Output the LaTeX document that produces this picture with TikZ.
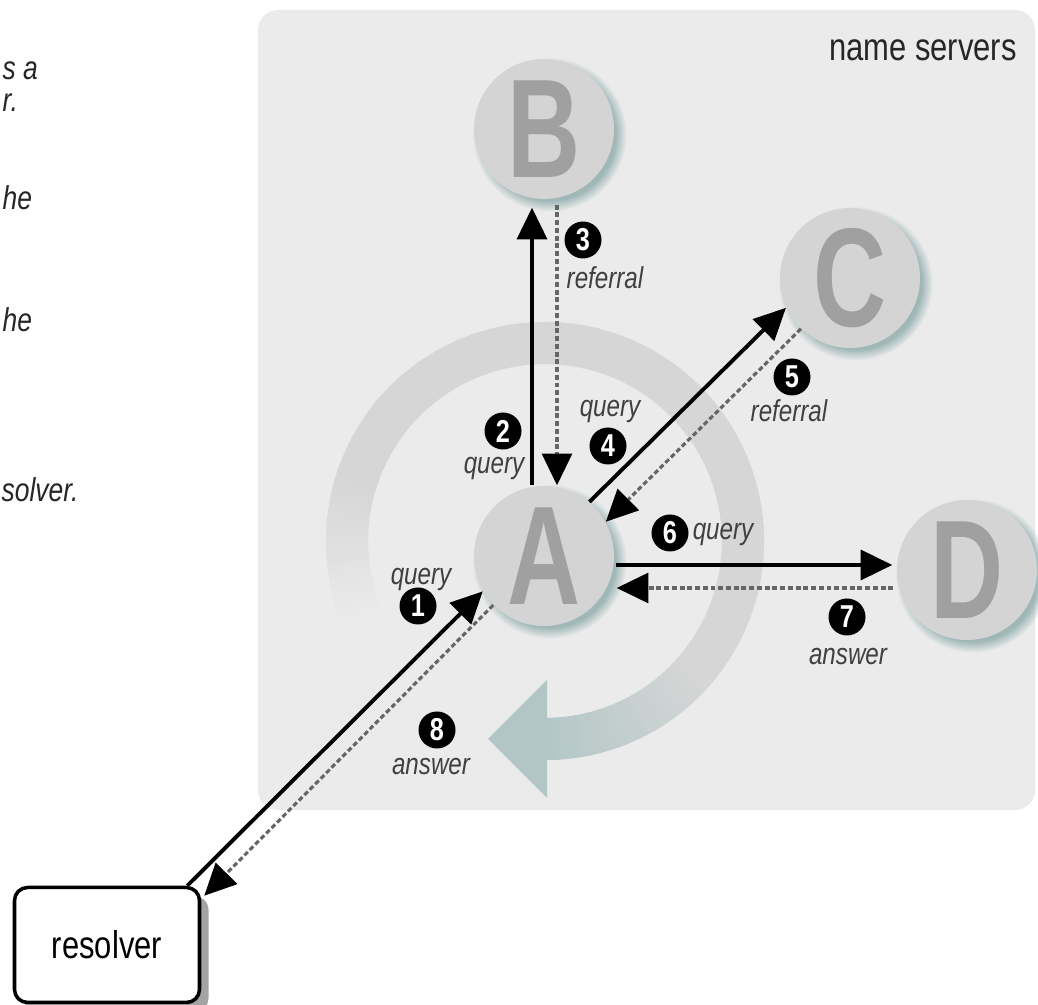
\documentclass[tikz,border=0pt]{standalone}
\usepackage{xcolor}
\usepackage{fontspec}
\usetikzlibrary{arrows.meta,calc,shadows}
\newfontfamily\condfont{Liberation Sans}[FakeStretch=0.8]
\newfontfamily\letterfont{Liberation Sans}[FakeStretch=0.72]
\definecolor{panelbg}{RGB}{235,235,235}
\definecolor{srvfill}{RGB}{212,212,212}
\definecolor{srvtext}{RGB}{160,160,160}
\definecolor{srvshadow}{RGB}{140,170,170}
\definecolor{ringgray}{RGB}{214,214,214}
\definecolor{ringteal}{RGB}{178,198,198}
\tikzset{
  server/.style={circle,fill=srvfill,minimum size=14mm,inner sep=0pt,text=srvtext,
    font=\letterfont\bfseries\fontsize{40}{40}\selectfont,
    circular drop shadow={shadow xshift=.5mm,shadow yshift=-.5mm,fill=srvshadow,opacity=.8}},
  num/.style={circle,fill=black,text=white,minimum size=3.7mm,inner sep=0pt,
    font=\condfont\bfseries\fontsize{9}{9}\selectfont},
  lbl/.style={text=black!75,inner sep=0pt,font=\condfont\itshape\fontsize{8.6}{10}\selectfont},
  frag/.style={text=black!85,inner sep=0pt,anchor=base west,font=\condfont\itshape\fontsize{9.4}{11}\selectfont},
  resbox/.style={draw,line width=1pt,rounded corners=1.3mm,fill=white,minimum width=18.5mm,
    minimum height=11.5mm,font=\condfont\fontsize{11}{13}\selectfont,
    drop shadow={shadow xshift=.9mm,shadow yshift=-.9mm,fill=black!60,opacity=.6}},
  query/.style={-{Triangle[length=9pt,width=8.5pt]},line width=1.1pt},
  answer/.style={-{Triangle[length=9pt,width=8.5pt,color=black]},line width=.9pt,black!60,
    dash pattern=on 1.4pt off .8pt}
}
\begin{document}
\begin{tikzpicture}[x=0.1mm,y=-0.1mm]
  \useasboundingbox (0,0) rectangle (1038,1005);
  \fill[panelbg,rounded corners=2mm] (258,10) rectangle (1035,810);
  \node[font=\condfont\fontsize{11}{13}\selectfont,text=black!85] (title) at (923,50) {name servers};
  \node[frag] (f1) at (2,80) {s a};
  \node[frag] (f2) at (2,112) {r.};
  \node[frag] (f3) at (2,210) {he};
  \node[frag] (f4) at (2,332) {he};
  \node[frag] (f5) at (1,502) {solver.};
  \coordinate (ring) at (545,541);
  \foreach \a in {204,202,...,-88}{
    \pgfmathtruncatemacro{\fin}{min(100,max(0,(204-\a)*2.5))}
    \pgfmathtruncatemacro{\tl}{min(100,max(0,(-40-\a)*2))}
    \colorlet{colA}{ringteal!\tl!ringgray}
    \colorlet{colB}{colA!\fin!panelbg}
    \draw[colB,line width=12pt] ($(ring)+(-\a:198)$) arc[start angle=-\a,end angle=-\a+2.6,radius=198];
  }
  \fill[ringteal] (488,739) -- (547,680) -- (547,798) -- cycle;
  \node[server] (A) at (544,556) {A};
  \node[server] (B) at (544,129) {B};
  \node[server] (C) at (850,278) {C};
  \node[server] (D) at (967,570) {D};
  \node[resbox] (res) at (107,945) {resolver};
  \draw[query] ($(res.north east)+(-14,0)$) -- (A.210);
  \draw[query] ($(A.north)+(-12,0)$) -- ($(B.south)+(-12,8)$);
  \draw[answer] ($(B.south)+(13,5)$) -- ($(A.north)+(13,0)$);
  \draw[query] (A.50) -- (C.205);
  \draw[answer] (C.226) -- (A.29);
  \draw[query] ($(A.east)+(1,9)$) -- ($(D.west)+(-4,-5)$);
  \draw[answer] ($(D.west)+(-3,18)$) -- ($(A.east)+(2,32)$);
  \draw[answer] (A.224) -- ($(res.north east)+(3,10)$);
  \node[lbl] (q1) at (421,580) {query};
  \node[num] (n1) at (418,606) {1};
  \node[num] (n2) at (503,431) {2};
  \node[lbl] (q2) at (494,469) {query};
  \node[num] (n3) at (583,240) {3};
  \node[lbl] (r3) at (605,278) {referral};
  \node[lbl] (q4) at (610,412) {query};
  \node[num] (n4) at (608,446) {4};
  \node[num] (n5) at (792,377) {5};
  \node[lbl] (r5) at (789,411) {referral};
  \node[num] (n6) at (670,533) {6};
  \node[lbl] (q6) at (723,535) {query};
  \node[num] (n7) at (847,617) {7};
  \node[lbl] (a7) at (848,657) {answer};
  \node[num] (n8) at (437,730) {8};
  \node[lbl] (a8) at (431,767) {answer};
\end{tikzpicture}
\end{document}
